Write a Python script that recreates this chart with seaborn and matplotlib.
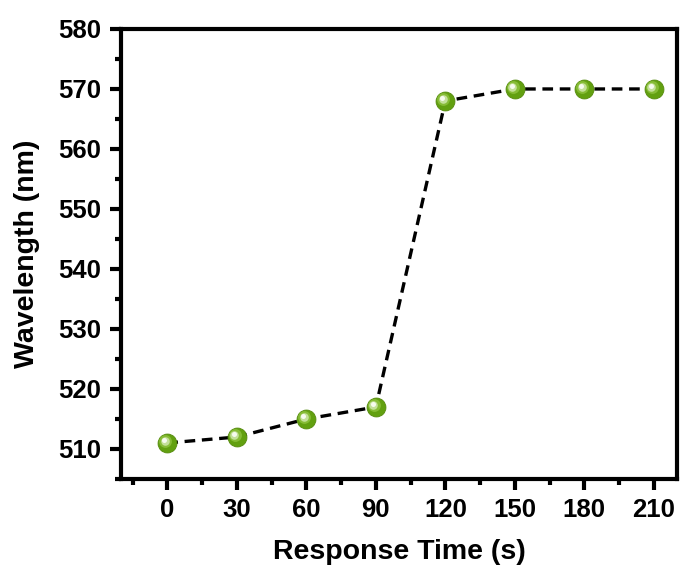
import matplotlib
matplotlib.use("Agg")
import matplotlib.pyplot as plt
import seaborn as sns
import pandas as pd
from matplotlib.ticker import MultipleLocator

time_s = [0, 30, 60, 90, 120, 150, 180, 210]
wavelength_nm = [511, 512, 515, 517, 568, 570, 570, 570]
x_ticks = [0, 30, 60, 90, 120, 150, 180, 210]
y_ticks = [510, 520, 530, 540, 550, 560, 570, 580]

df = pd.DataFrame({"t": time_s, "w": wavelength_nm})

sns.set_style("ticks")
plt.rcParams['font.family'] = ['Liberation Sans', 'DejaVu Sans']
plt.rcParams['font.weight'] = 'bold'
plt.rcParams['text.color'] = 'black'
plt.rcParams['axes.labelcolor'] = 'black'
plt.rcParams['xtick.color'] = 'black'
plt.rcParams['ytick.color'] = 'black'

fig = plt.figure(figsize=(6.82, 5.68), dpi=100)
ax = fig.add_axes([0.1774, 0.1567, 0.9927 - 0.1774, 0.949 - 0.1567])

sns.lineplot(data=df, x="t", y="w", ax=ax, color="black", linestyle=(0, (3.2, 2.0)),
             linewidth=2.4, zorder=2)
sns.scatterplot(data=df, x="t", y="w", ax=ax, s=185, color="#62a010",
                edgecolor="#548a0c", linewidth=0.6, zorder=3)
# specular highlight layers (upper-left)
ax.scatter([t - 0.9 for t in time_s], [w + 0.3 for w in wavelength_nm], s=85,
           color="#86bc36", linewidth=0, zorder=4)
ax.scatter([t - 1.2 for t in time_s], [w + 0.4 for w in wavelength_nm], s=38,
           color="#c4e09a", linewidth=0, zorder=5)
ax.scatter([t - 1.3 for t in time_s], [w + 0.45 for w in wavelength_nm], s=13,
           color="#f6fbef", linewidth=0, zorder=6)

ax.set_xlim(-20, 220)
ax.set_ylim(505, 580)
ax.xaxis.set_minor_locator(MultipleLocator(15))
ax.yaxis.set_minor_locator(MultipleLocator(5))

for s in ax.spines.values():
    s.set_linewidth(3)
    s.set_color("black")
ax.tick_params(which="major", direction="out", length=8, width=3,
               top=False, right=False, pad=6)
ax.tick_params(which="minor", direction="out", length=4.5, width=3, top=False, right=False)

ax.set_xticks(x_ticks)
ax.set_yticks(y_ticks)
ax.set_xticklabels([str(v) for v in x_ticks], fontsize=18.5, fontweight="bold", color="black")
ax.set_yticklabels([str(v) for v in y_ticks], fontsize=18.5, fontweight="bold", color="black")

ax.set_xlabel("Response Time (s)", fontsize=20.5, fontweight="bold", labelpad=12)
ax.set_ylabel("Wavelength (nm)", fontsize=20.5, fontweight="bold", labelpad=13)

fig.savefig("out.png", dpi=100)
